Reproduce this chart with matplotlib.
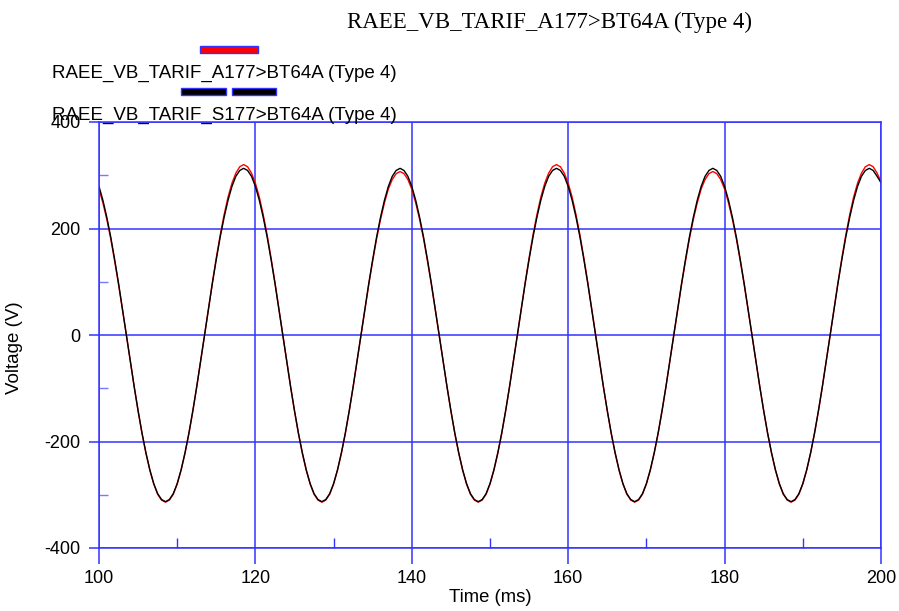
import numpy as np
import matplotlib
matplotlib.use("Agg")
import matplotlib.pyplot as plt
from matplotlib.patches import Rectangle
from matplotlib.ticker import MultipleLocator

plt.rcParams["axes.unicode_minus"] = False

# time axis (ms), sampled every 0.5 ms
t = np.arange(100, 200.5, 0.5)

# RAEE_VB_TARIF_S177>BT64A (black)
v_s177 = [
    279, 253, 221, 184, 142, 97, 49, 0, -49, -97, -142, -184, -221, -253, -279, -298, -309, -313, -309, -298,
    -279, -253, -221, -184, -142, -97, -49, 0, 49, 97, 142, 184, 221, 253, 279, 298, 309, 313, 309, 298,
    279, 253, 221, 184, 142, 97, 49, 0, -49, -97, -142, -184, -221, -253, -279, -298, -309, -313, -309, -298,
    -279, -253, -221, -184, -142, -97, -49, 0, 49, 97, 142, 184, 221, 253, 279, 298, 309, 313, 309, 298,
    279, 253, 221, 184, 142, 97, 49, 0, -49, -97, -142, -184, -221, -253, -279, -298, -309, -313, -309, -298,
    -279, -253, -221, -184, -142, -97, -49, 0, 49, 97, 142, 184, 221, 253, 279, 298, 309, 313, 309, 298,
    279, 253, 221, 184, 142, 97, 49, 0, -49, -97, -142, -184, -221, -253, -279, -298, -309, -313, -309, -298,
    -279, -253, -221, -184, -142, -97, -49, 0, 49, 97, 142, 184, 221, 253, 279, 298, 309, 313, 309, 298,
    279, 253, 221, 184, 142, 97, 49, 0, -49, -97, -142, -184, -221, -253, -279, -298, -309, -313, -309, -298,
    -279, -253, -221, -184, -142, -97, -49, 0, 49, 97, 142, 184, 221, 253, 279, 298, 309, 313, 309, 298,
    286,
]

# RAEE_VB_TARIF_A177>BT64A (red)
v_a177 = [
    274, 248, 217, 181, 139, 95, 48, 0, -49, -97, -143, -185, -222, -254, -280, -299, -310, -314, -310, -299,
    -280, -254, -222, -185, -143, -97, -49, 0, 50, 99, 145, 188, 226, 259, 285, 304, 316, 320, 316, 304,
    285, 259, 226, 188, 145, 99, 50, 0, -49, -97, -143, -185, -222, -254, -280, -299, -310, -314, -310, -299,
    -280, -254, -222, -185, -143, -97, -49, 0, 48, 95, 139, 181, 217, 248, 274, 292, 303, 307, 303, 292,
    274, 248, 217, 181, 139, 95, 48, 0, -49, -97, -143, -185, -222, -254, -280, -299, -310, -314, -310, -299,
    -280, -254, -222, -185, -143, -97, -49, 0, 50, 99, 145, 188, 226, 259, 285, 304, 316, 320, 316, 304,
    285, 259, 226, 188, 145, 99, 50, 0, -49, -97, -143, -185, -222, -254, -280, -299, -310, -314, -310, -299,
    -280, -254, -222, -185, -143, -97, -49, 0, 48, 95, 139, 181, 217, 248, 274, 292, 303, 307, 303, 292,
    274, 248, 217, 181, 139, 95, 48, 0, -49, -97, -143, -185, -222, -254, -280, -299, -310, -314, -310, -299,
    -280, -254, -222, -185, -143, -97, -49, 0, 50, 99, 145, 188, 226, 259, 285, 304, 316, 320, 316, 304,
    288,
]

title = "RAEE_VB_TARIF_A177>BT64A (Type 4)"
label_a = "RAEE_VB_TARIF_A177>BT64A (Type 4)"
label_s = "RAEE_VB_TARIF_S177>BT64A (Type 4)"

blue = "#3333ff"
sans = "Liberation Sans"
serif = "Liberation Serif"

fig = plt.figure(figsize=(8.99, 6.11), dpi=100)
ax = fig.add_axes([99 / 899, 1 - 548 / 611, 782 / 899, 426 / 611])

ax.plot(t, v_a177, color="red", lw=1.0)
ax.plot(t, v_s177, color="black", lw=1.0)

ax.set_xlim(100, 200)
ax.set_ylim(-400, 400)
ax.xaxis.set_major_locator(MultipleLocator(20))
ax.xaxis.set_minor_locator(MultipleLocator(10))
ax.yaxis.set_major_locator(MultipleLocator(200))
ax.yaxis.set_minor_locator(MultipleLocator(100))

ax.grid(which="major", color=blue, lw=1.1)
for s in ax.spines.values():
    s.set_color(blue)
    s.set_linewidth(1.1)

ax.tick_params(axis="x", which="major", direction="out", length=11.5, width=1.1,
               color=blue, pad=4, labelsize=13)
ax.tick_params(axis="y", which="major", direction="out", length=7.2, width=1.1,
               color=blue, pad=6, labelsize=13)
ax.tick_params(axis="x", which="minor", direction="in", length=7, width=1.0, color=blue)
ax.tick_params(axis="y", which="minor", direction="in", length=6.5, width=1.0, color="#7777ff")
for lab in ax.get_xticklabels() + ax.get_yticklabels():
    lab.set_family(sans)

ax.set_xlabel("Time (ms)", family=sans, fontsize=13.3, labelpad=2)
ax.set_ylabel("Voltage (V)", family=sans, fontsize=13.5, labelpad=4)
ax.yaxis.set_label_coords(-0.097, 0.47)

# title and legend drawn on the figure
fig.text(549.5 / 899, 1 - 28.3 / 611, title, family=serif, fontsize=16.5,
         ha="center", va="baseline")

fig.patches.append(Rectangle((200 / 899, 1 - 52.7 / 611), 57.7 / 899, 6.7 / 611,
                             transform=fig.transFigure, facecolor="red", edgecolor=blue, lw=1))
fig.patches.append(Rectangle((181 / 899, 1 - 94.7 / 611), 44.7 / 899, 6.7 / 611,
                             transform=fig.transFigure, facecolor="black", edgecolor=blue, lw=1))
fig.patches.append(Rectangle((231.7 / 899, 1 - 94.7 / 611), 44.6 / 899, 6.7 / 611,
                             transform=fig.transFigure, facecolor="black", edgecolor=blue, lw=1))
fig.text(52 / 899, 1 - 77.7 / 611, label_a, family=sans, fontsize=13.5, va="baseline")
fig.text(52 / 899, 1 - 120 / 611, label_s, family=sans, fontsize=13.5, va="baseline")

fig.savefig("out.png", dpi=100)
